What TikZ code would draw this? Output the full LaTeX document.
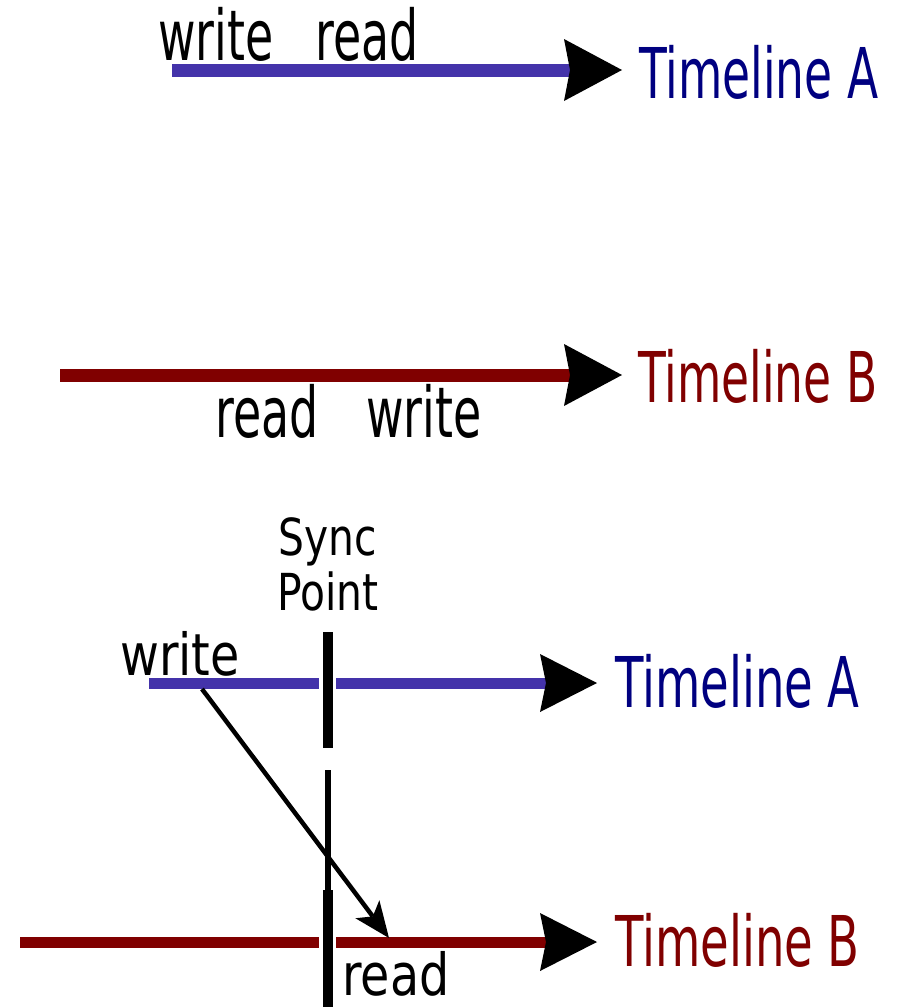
\documentclass[tikz,border=0pt]{standalone}
\usepackage{fontspec}
\usetikzlibrary{arrows.meta}
\newfontfamily\fT{DejaVu Sans}[FakeStretch=0.65]
\newfontfamily\fTb{DejaVu Sans}[FakeStretch=0.665]
\newfontfamily\fW{DejaVu Sans}[FakeStretch=0.655]
\newfontfamily\fB{DejaVu Sans}[FakeStretch=0.82]
\newfontfamily\fS{DejaVu Sans}[FakeStretch=0.8]
\definecolor{lineA}{RGB}{68,51,170}
\definecolor{textA}{RGB}{0,0,128}
\definecolor{darkred}{RGB}{128,0,0}
\tikzset{
  bigtxt/.style={inner sep=0pt, anchor=base west, font=\fW\fontsize{70}{70}\selectfont},
  tltxt/.style={inner sep=0pt, anchor=base west, font=\fT\fontsize{70}{70}\selectfont},
  tltxtb/.style={inner sep=0pt, anchor=base west, font=\fTb\fontsize{70}{70}\selectfont},
  smtxt/.style={inner sep=0pt, anchor=base west, font=\fB\fontsize{58}{58}\selectfont},
  bigtip/.style={-{Stealth[black, length=58pt, width=62pt, inset=6pt, line width=0pt]}},
  smtip/.style={-{Stealth[black, length=57pt, width=58pt, inset=6pt, line width=0pt]}},
  tlineA/.style={lineA, line width=13pt},
  tlineB/.style={darkred, line width=13pt},
  blineA/.style={lineA, line width=11pt},
  blineB/.style={darkred, line width=11pt},
  gap/.style={white, line width=17pt},
  bar/.style={black, line width=10.5pt},
  thinbar/.style={black, line width=6.5pt},
}
\begin{document}
\begin{tikzpicture}[x=1pt, y=-1pt]
\useasboundingbox[fill=white] (0,0) rectangle (897,1007);

% ---------- top: Timeline A
\coordinate (a1s) at (172,70);
\coordinate (a1e) at (622,70);
\draw[tlineA, bigtip] (a1s) -- (a1e);
\node[tltxt, text=textA] (tlA1) at (639,98) {Timeline A};
\node[bigtxt] (wA1) at (158,60) {write};
\node[bigtxt] (rA1) at (315,60) {read};

% ---------- top: Timeline B
\coordinate (b1s) at (60,375);
\coordinate (b1e) at (622,375);
\draw[tlineB, bigtip] (b1s) -- (b1e);
\node[tltxt, text=darkred] (tlB1) at (638,402) {Timeline B};
\node[bigtxt] (rB1) at (215,437) {read};
\node[bigtxt] (wB1) at (366,437) {write};

% ---------- bottom
\node[inner sep=0pt, align=center, anchor=base, font=\fS\fontsize{51}{55}\selectfont] (sync) at (328,610) {Sync\\Point};

\coordinate (a2s) at (149,683);
\coordinate (a2e) at (597,683);
\draw[blineA, smtip] (a2s) -- (a2e);
\coordinate (s1t) at (327,632);
\coordinate (s1b) at (327,748);
\draw[gap] (s1t) -- (s1b);
\coordinate (s1t') at (328,632);
\coordinate (s1b') at (328,748);
\draw[bar] (s1t') -- (s1b');
\node[tltxtb, text=textA] (tlA2) at (615,707) {Timeline A};
\node[smtxt] (wA2) at (120,675) {write};

\coordinate (b2s) at (20,942);
\coordinate (b2e) at (597,942);
\draw[blineB, smtip] (b2s) -- (b2e);
\coordinate (s2t) at (327,890);
\coordinate (s2b) at (327,1007);
\draw[gap] (s2t) -- (s2b);
\coordinate (s2t') at (328,890);
\coordinate (s2b') at (328,1007);
\draw[bar] (s2t') -- (s2b');
\coordinate (s3t) at (328,770);
\coordinate (s3b) at (328,892);
\draw[thinbar] (s3t) -- (s3b);
\node[tltxtb, text=darkred] (tlB2) at (615,966) {Timeline B};
\node[smtxt] (rB2) at (342,995) {read};

\coordinate (wpt) at (202,689);
\coordinate (rpt) at (389,938);
\draw[black, line width=4.5pt, -{Stealth[length=36pt, width=30pt, inset=9pt, line width=0pt]}] (wpt) -- (rpt);
\end{tikzpicture}
\end{document}
